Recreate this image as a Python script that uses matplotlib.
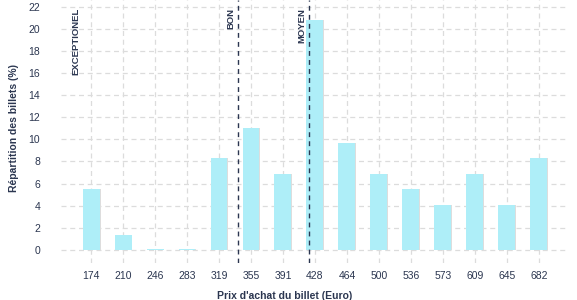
import matplotlib
matplotlib.use("Agg")
import matplotlib.pyplot as plt

prices = ["174", "210", "246", "283", "319", "355", "391", "428", "464", "500", "536", "573", "609", "645", "682"]
shares = [5.5, 1.35, 0.1, 0.1, 8.3, 11.0, 6.9, 20.8, 9.7, 6.9, 5.5, 4.1, 6.9, 4.1, 8.3]
ref_labels = ["EXCEPTIONEL", "BON", "MOYEN"]
ref_pos = [-0.25, 4.6, 6.82]
ref_show_line = [False, True, True]
yticks = list(range(0, 23, 2))

plt.rcParams['font.family'] = ['Liberation Sans', 'DejaVu Sans']
navy = "#2b3650"

fig = plt.figure(figsize=(5.77, 3.0), dpi=100)
ax = fig.add_axes([61/577, 1 - 263/300, (567-61)/577, 263/300])

x = list(range(len(prices)))
# subtle shadow
ax.bar([i + 0.03 for i in x], shares, width=0.53, color="#dddddd", zorder=2)
ax.bar(x, shares, width=0.53, color="#aeeef8", zorder=3)

for lab, p, show in zip(ref_labels, ref_pos, ref_show_line):
    if show:
        ax.axvline(p, color=navy, lw=1.0, ls=(0, (3.5, 3)), zorder=4)
    ax.text(p - 0.08, 21.9, lab, rotation=90, ha="right", va="top",
            fontsize=6.8, fontweight="bold", color=navy, zorder=5)

ax.set_xlim(-0.94, 14.88)
ax.set_ylim(-1.2, 22.63)
ax.set_xticks(x)
ax.set_xticklabels(prices)
ax.set_yticks(yticks)
ax.grid(True, color="#dcdcdc", ls=(0, (4, 3)), lw=0.9, zorder=0)
ax.set_axisbelow(True)
for s in ax.spines.values():
    s.set_visible(False)
ax.tick_params(length=0, labelsize=7.5, colors=navy, pad=2)
ax.tick_params(axis="x", pad=6)
ax.tick_params(axis="y", pad=15)

fig.text(14/577, 1 - 128/300, "Répartition des billets (%)", rotation=90,
         ha="center", va="center", fontsize=7.5, fontweight="bold", color=navy)
fig.text(285/577, 1 - 296/300, "Prix d'achat du billet (Euro)",
         ha="center", va="center", fontsize=7.5, fontweight="bold", color=navy)

fig.savefig("out.png", dpi=100)
